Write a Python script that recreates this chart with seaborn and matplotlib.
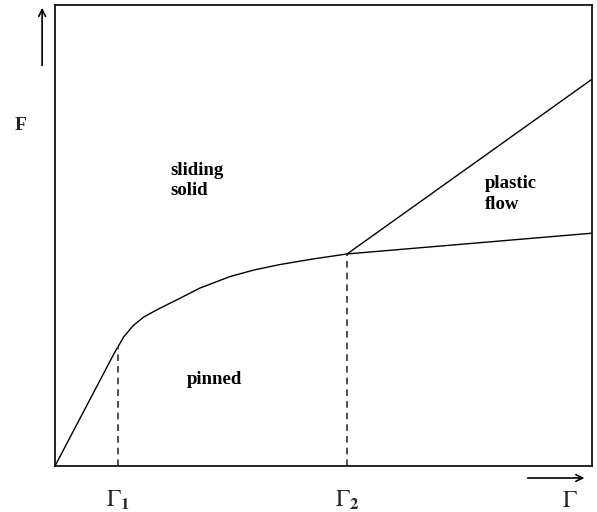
import matplotlib
matplotlib.use("Agg")
import matplotlib.pyplot as plt
import seaborn as sns
import pandas as pd

# phase boundary points (arbitrary units, Gamma on x, F on y)
pinned_gamma = [0.0, 1.10, 1.17, 1.28, 1.45, 1.65, 1.90, 2.33, 2.70, 3.26, 3.70, 4.19, 4.80, 5.44, 10.0]
pinned_F = [0.0, 2.44, 2.58, 2.80, 3.04, 3.23, 3.39, 3.64, 3.86, 4.11, 4.25, 4.37, 4.49, 4.60, 5.05]
plastic_gamma = [5.44, 10.0]
plastic_F = [4.60, 8.39]

gamma1, gamma2 = 1.17, 5.44
F1, F2 = 2.58, 4.60

sns.set_theme(style="white")
plt.rcParams['font.family'] = ['Liberation Serif', 'DejaVu Serif']
plt.rcParams['mathtext.fontset'] = 'stix'

fig = plt.figure(figsize=(5.97, 5.12), dpi=100)
ax = fig.add_axes([55 / 597, 46 / 512, 537 / 597, 461 / 512])

df1 = pd.DataFrame({"Gamma": pinned_gamma, "F": pinned_F})
df2 = pd.DataFrame({"Gamma": plastic_gamma, "F": plastic_F})
sns.lineplot(data=df1, x="Gamma", y="F", color="black", lw=1, sort=False, ax=ax)
sns.lineplot(data=df2, x="Gamma", y="F", color="black", lw=1, sort=False, ax=ax)

ax.vlines([gamma1, gamma2], 0, [F1, F2], colors="#333333", linestyles=(0, (4, 3)), lw=1.2)

ax.set_xlim(0, 10)
ax.set_ylim(0, 10)
ax.set_xticks([])
ax.set_yticks([])
ax.set_xlabel("")
ax.set_ylabel("")
for s in ax.spines.values():
    s.set_color("black")
    s.set_linewidth(1.2)

kw = dict(fontsize=13.5, fontweight="bold", color="black")
ax.text(2.14, 6.2, "sliding\nsolid", va="center", ha="left", linespacing=1.25, **kw)
ax.text(8.0, 5.9, "plastic\nflow", va="center", ha="left", linespacing=1.25, **kw)
ax.text(2.46, 1.87, "pinned", va="center", ha="left", **kw)

# axis arrows and labels
ax.annotate("", xy=(-0.024, 1.0), xytext=(-0.024, 0.863), xycoords="axes fraction",
            arrowprops=dict(arrowstyle="->", color="black", lw=1.2), annotation_clip=False)
ax.annotate("", xy=(0.991, -0.026), xytext=(0.875, -0.026), xycoords="axes fraction",
            arrowprops=dict(arrowstyle="->", color="black", lw=1.2), annotation_clip=False)
ax.text(-0.065, 0.738, "F", transform=ax.transAxes, ha="center", va="center",
        fontsize=14, fontweight="bold")

trans = ax.get_xaxis_transform()
ax.text(gamma1, -0.074, r"$\Gamma_\mathbf{1}$", transform=trans, ha="center", va="center", fontsize=17)
ax.text(gamma2, -0.074, r"$\Gamma_\mathbf{2}$", transform=trans, ha="center", va="center", fontsize=17)
ax.text(9.59, -0.078, r"$\Gamma$", transform=trans, ha="center", va="center", fontsize=17)

plt.savefig("out.png", dpi=100)
